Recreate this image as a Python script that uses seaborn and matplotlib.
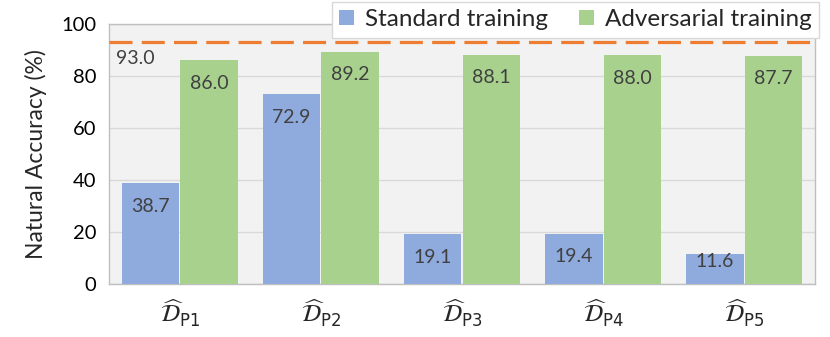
import matplotlib
matplotlib.use("Agg")
import matplotlib.pyplot as plt
import seaborn as sns
import pandas as pd

categories = [r"$\widehat{\mathcal{D}}_{\mathrm{P1}}$", r"$\widehat{\mathcal{D}}_{\mathrm{P2}}$",
              r"$\widehat{\mathcal{D}}_{\mathrm{P3}}$", r"$\widehat{\mathcal{D}}_{\mathrm{P4}}$",
              r"$\widehat{\mathcal{D}}_{\mathrm{P5}}$"]
standard = [38.7, 72.9, 19.1, 19.4, 11.6]
adversarial = [86.0, 89.2, 88.1, 88.0, 87.7]
series_names = ["Standard training", "Adversarial training"]
reference_acc = 93.0
yticks = [0, 20, 40, 60, 80, 100]

sns.set_theme(style="white")
plt.rcParams["font.family"] = ["Lato", "DejaVu Sans"]
plt.rcParams["mathtext.fontset"] = "dejavusans"

df = pd.DataFrame({
    "cat": categories * 2,
    "val": standard + adversarial,
    "series": [series_names[0]] * 5 + [series_names[1]] * 5,
})

fig = plt.figure(figsize=(8.3, 3.37), dpi=100)
ax = fig.add_axes([109 / 830, 1 - 284 / 337, (815 - 109) / 830, (284 - 24) / 337])
ax.set_facecolor("#F2F2F2")

palette = {series_names[0]: "#8FAADC", series_names[1]: "#A9D18E"}
sns.barplot(data=df, x="cat", y="val", hue="series", palette=palette, ax=ax,
            width=0.83, gap=0.02, saturation=1, edgecolor="none", zorder=3)

ax.set_ylim(0, 100)
ax.set_xlim(-0.5, 4.5)
ax.set_yticks(yticks)
ax.set_yticklabels([str(t) for t in yticks], fontsize=14.5, color="#000000")
ax.grid(axis="y", color="#D9D9D9", linewidth=1, zorder=0)
ax.set_axisbelow(True)
for s in ax.spines.values():
    s.set_color("#BFBFBF")
    s.set_linewidth(1)
ax.tick_params(axis="y", length=0, pad=9)
ax.tick_params(axis="x", length=0, labelsize=17, pad=10)
ax.set_xlabel("")
ax.set_ylabel("Natural Accuracy (%)", fontsize=16.5, labelpad=10)

# value labels
for cont in ax.containers:
    for bar in cont:
        v = bar.get_height()
        ypos = max(v - 8.8, 8.5)
        ax.text(bar.get_x() + bar.get_width() / 2, ypos, f"{v:.1f}",
                ha="center", va="center", fontsize=14, color="#404040", zorder=5)

# reference line
ax.axhline(reference_acc, color="#ED7D31", linewidth=2.3,
           linestyle=(0, (7.2, 2.9)), zorder=4)
ax.text(-0.45, reference_acc - 6.2, f"{reference_acc:.1f}", ha="left", va="center",
        fontsize=14, color="#404040", zorder=5)

ax.get_legend().remove()
handles, labels = ax.get_legend_handles_labels()
leg = fig.legend(handles, labels, loc="upper right", bbox_to_anchor=(819 / 830, 1 - 2 / 337),
                 ncol=2, fontsize=17.5, frameon=True, fancybox=False, framealpha=1,
                 edgecolor="#D9D9D9", handlelength=0.6, handleheight=0.6,
                 handletextpad=0.45, columnspacing=1.3, borderpad=0.3,
                 borderaxespad=0)
leg.get_frame().set_linewidth(1)

fig.savefig("out.png", dpi=100, facecolor="white")
